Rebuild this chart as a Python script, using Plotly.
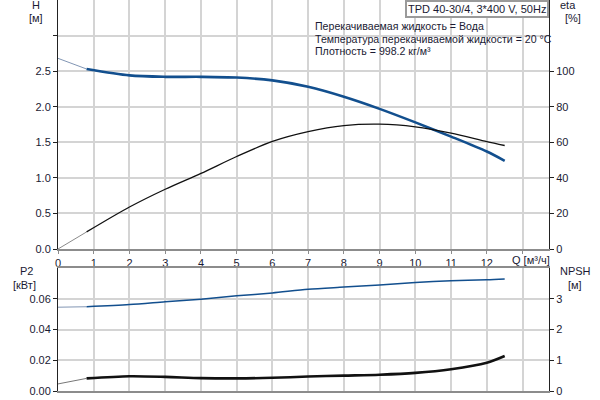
import plotly.graph_objects as go

# Pump curve data
Q = [0, 0.8, 2, 3, 4, 5, 6, 7, 8, 9, 10, 11, 12, 12.5]
H = [2.68, 2.53, 2.44, 2.42, 2.42, 2.41, 2.37, 2.28, 2.14, 1.97, 1.78, 1.58, 1.37, 1.24]
ETA = [0, 9.6, 23.6, 33.6, 42.5, 52, 60.5, 66, 69.4, 70.2, 68.7, 65.2, 60.4, 58.2]
P2 = [0.0545, 0.0548, 0.0562, 0.058, 0.0597, 0.0619, 0.0638, 0.0662, 0.0676,
      0.069, 0.0706, 0.0717, 0.0723, 0.0728]
NPSH = [0.23, 0.41, 0.48, 0.46, 0.42, 0.41, 0.43, 0.47, 0.50, 0.53, 0.59, 0.71, 0.92, 1.14]

Q_TICKS = list(range(0, 14))
Q_LABELS = [str(v) for v in range(0, 13)] + [""]
H_TICKS = [0, 0.5, 1.0, 1.5, 2.0, 2.5, 3.0]
H_LABELS = ["0.0", "0.5", "1.0", "1.5", "2.0", "2.5", ""]
ETA_TICKS = [0, 20, 40, 60, 80, 100]
P2_TICKS = [0, 0.02, 0.04, 0.06]
P2_LABELS = ["0.00", "0.02", "0.04", "0.06"]
NPSH_TICKS = [0, 1, 2, 3]

INFO = [
    "Перекачиваемая жидкость = Вода",
    "Температура перекачиваемой жидкости = 20 °C",
    "Плотность = 998.2 кг/м³",
]

BLUE = "#124f8e"
BLUE_THIN = "#8296b4"
TXT = "#1a1a33"
GRID = "#d4d4d4"
FONT = "Liberation Sans, Arial, sans-serif"

SPLIT = 1  # index where the thin start segment ends


def pair(yvals, xa, ya, color, thin_color, width):
    return [
        go.Scatter(x=Q[:SPLIT + 1], y=yvals[:SPLIT + 1], xaxis=xa, yaxis=ya, mode="lines",
                   line=dict(color=thin_color, width=1, shape="spline", smoothing=0.8),
                   hoverinfo="skip", showlegend=False),
        go.Scatter(x=Q[SPLIT:], y=yvals[SPLIT:], xaxis=xa, yaxis=ya, mode="lines",
                   line=dict(color=color, width=width, shape="spline", smoothing=0.8),
                   showlegend=False),
    ]


traces = []
traces += pair(ETA, "x", "y2", "#111111", "#8a8a8a", 1.3)
traces += pair(H, "x", "y", BLUE, BLUE_THIN, 2.6)
traces += pair(P2, "x2", "y3", BLUE, BLUE_THIN, 1.5)
traces += pair(NPSH, "x2", "y4", "#111111", "#777777", 2.6)

fig = go.Figure(traces)

top_dom = [1 - 249 / 391, 1.0]
bot_dom = [0.0, 1 - 268 / 391]
xrange_ = [0, 13.74]

tickfont = dict(size=11, color=TXT)
common_x = dict(range=xrange_, tickvals=Q_TICKS, showgrid=True, gridcolor=GRID, gridwidth=1.5,
                zeroline=False, showline=True, linecolor="#8c8c8c", linewidth=2,
                tickfont=tickfont, automargin=False)
common_y = dict(zeroline=False, showline=True, linecolor="#222", linewidth=1,
                ticks="outside", ticklen=4, tickcolor="#222", tickfont=tickfont,
                automargin=False)

fig.update_layout(
    width=600, height=400,
    margin=dict(l=58, r=51, t=0, b=9, autoexpand=False),
    paper_bgcolor="white", plot_bgcolor="white",
    font=dict(family=FONT, color=TXT, size=11),
    xaxis=dict(common_x, domain=[0, 1], anchor="y", ticktext=Q_LABELS,
               ticks="outside", ticklen=3, tickcolor="#8c8c8c"),
    yaxis=dict(common_y, domain=top_dom, range=[0, 3.5], tickvals=H_TICKS, ticktext=H_LABELS,
               showgrid=True, gridcolor=GRID, gridwidth=1.5),
    yaxis2=dict(common_y, domain=top_dom, range=[0, 140], tickvals=ETA_TICKS, overlaying="y",
                side="right", anchor="x", showgrid=False),
    xaxis2=dict(common_x, domain=[0, 1], anchor="y3", showticklabels=False, mirror=True),
    yaxis3=dict(common_y, domain=bot_dom, range=[0, 0.08], tickvals=P2_TICKS, ticktext=P2_LABELS,
                anchor="x2", showgrid=True, gridcolor=GRID, gridwidth=1.5),
    yaxis4=dict(common_y, domain=bot_dom, range=[0, 4], tickvals=NPSH_TICKS, overlaying="y3",
                side="right", anchor="x2", showgrid=False),
)

ann = []


def label(text, x, y, xanchor="center", size=11):
    ann.append(dict(text=text, x=x, y=y, xref="paper", yref="paper", xanchor=xanchor,
                    yanchor="middle", showarrow=False, font=dict(size=size, color=TXT)))


def px(xp):
    return (xp - 58) / (549 - 58)


def py(yp):
    return (391 - yp) / 391


label("H", px(36), py(5))
label("[м]", px(36), py(18))
label("eta", px(568), py(5))
label("[%]", px(573), py(18))
label("P2", px(26), py(271))
label("[кВт]", px(24), py(285))
label("NPSH", px(575), py(271))
label("[м]", px(575), py(285))
label("Q [м³/ч]", px(510), py(260), xanchor="left")

for i, t in enumerate(INFO):
    label(t, px(313), py(26 + 12.7 * i), xanchor="left", size=10.6)

ann.append(dict(text="TPD 40-30/4, 3*400 V, 50Hz", x=1, y=1, xref="paper", yref="paper",
                xanchor="right", yanchor="top", showarrow=False, bgcolor="white",
                bordercolor="#9a9a9a", borderwidth=2, borderpad=1,
                font=dict(size=11, color=TXT)))

fig.update_layout(annotations=ann)

# page body has a default 8px margin; drop it so the figure sits at the window corner
fig.write_html("out.html", config={"displayModeBar": False},
               post_script="document.body.style.margin='0';")
